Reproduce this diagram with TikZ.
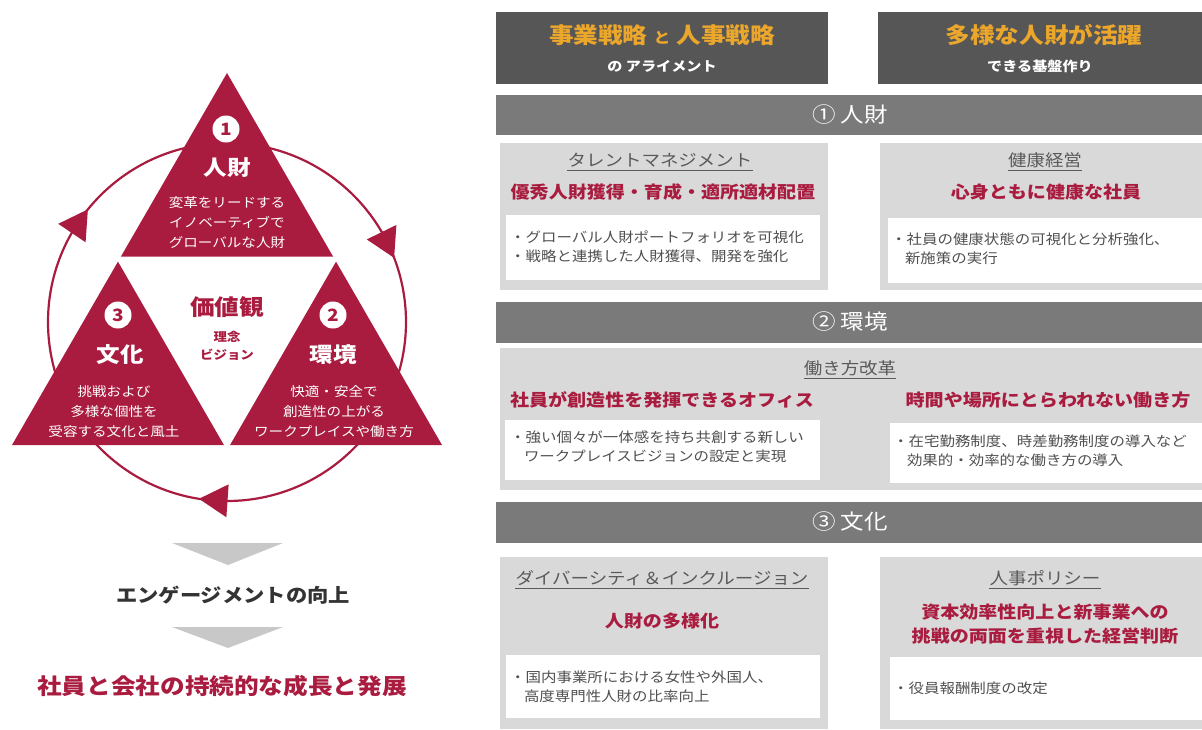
\documentclass[tikz,border=0pt]{standalone}
\usepackage{fontspec}
\setmainfont{Noto Sans CJK JP}[FakeStretch=1.12]
\usetikzlibrary{calc}
\definecolor{crim}{HTML}{A91C3F}
\definecolor{gold}{HTML}{EBA62C}
\definecolor{hdrgray}{HTML}{565656}
\definecolor{bargray}{HTML}{7A7A7A}
\definecolor{boxgray}{HTML}{D9D9D9}
\definecolor{headtxt}{HTML}{5A5A5A}
\definecolor{listtxt}{HTML}{505050}
\definecolor{chev}{HTML}{C8C8C8}
\newcommand\fsz[2]{\fontsize{#1}{#2}\selectfont}
\begin{document}
\begin{tikzpicture}[x=1pt,y=-1pt, every node/.style={inner sep=0pt},
  numc/.style={circle, fill=white, minimum size=27pt, text=crim, font=\fsz{17}{20}\bfseries},
  tname/.style={text=white, font=\fsz{21}{24}\bfseries},
  tsub/.style={text=white, align=center, font=\fsz{13}{20}},
  hdrbox/.style={fill=hdrgray},
  barbox/.style={fill=bargray},
  pbox/.style={fill=boxgray},
  wbox/.style={fill=white},
  goldtxt/.style={text=gold, font=\fsz{22}{26}\bfseries},
  hsub/.style={text=white, font=\fsz{13.5}{16}\bfseries},
  bartxt/.style={text=white, font=\fsz{21}{24}},
  head/.style={text=headtxt, font=\fsz{16.5}{20}},
  uline/.style={draw=headtxt, line width=0.9pt},
  crimtxt/.style={text=crim, align=center, font=\fsz{17}{24}\bfseries},
  listtext/.style={text=listtxt, align=left, font=\fsz{13.8}{19}},
]
\useasboundingbox (0,0) rectangle (1202,729);
% ---------- left: cycle ----------
\coordinate (c) at (227,322);
\draw[crim, line width=2.2pt] (c) circle[radius=179pt];
\foreach \t in {21,141,261}{
  \fill[crim] ($(c)+(-\t:179)$) -- ($(c)+(-\t:179)+({-\t-65}:33)$) -- ($(c)+(-\t:179)+({-\t-125}:33)$) -- cycle;
}
\fill[crim] (227,73) -- (442,445) -- (12,445) -- cycle;
\filldraw[white, line width=5pt, line join=round] (119.5,259) -- (334.5,259) -- (227,445) -- cycle;

\node[numc] (n1) at (226,129) {1};
\node[tname] (t1) at (227,168) {人財};
\node[tsub] (s1) at (227,223) {変革をリードする\\イノベーティブで\\グローバルな人財};

\node[numc] (n3) at (118,315) {3};
\node[tname] (t3) at (120,355) {文化};
\node[tsub] (s3) at (114,412) {挑戦および\\多様な個性を\\受容する文化と風土};

\node[numc] (n2) at (333,315) {2};
\node[tname] (t2) at (333,355) {環境};
\node[tsub] (s2) at (334,412) {快適・安全で\\創造性の上がる\\ワークプレイスや働き方};

\node[text=crim, font=\fsz{22}{26}\bfseries] (kv) at (227,307) {価値観};
\node[text=crim, align=center, font=\fsz{12}{18}\bfseries] (kv2) at (227,346) {理念\\ビジョン};

% chevrons and outcome
\fill[chev] (172,543) -- (283,543) -- (228,565) -- cycle;
\node[text=black!80, font=\fsz{19}{22}\bfseries] (eng) at (233,595) {エンゲージメントの向上};
\fill[chev] (172,627) -- (283,627) -- (228,648) -- cycle;
\node[text=crim, font=\fsz{22}{26}\bfseries] (goal) at (222,686) {社員と会社の持続的な成長と発展};

% ---------- right: headers ----------
\fill[hdrbox] (496,12) rectangle (828,84);
\node[goldtxt] (g1) at (662,35) {事業戦略\hspace{6pt}{\fsz{15}{18}と}\hspace{6pt}人事戦略};
\node[hsub] (g1s) at (662,66) {の アライメント};
\fill[hdrbox] (878,12) rectangle (1202,84);
\node[goldtxt] (g2) at (1044,35) {多様な人財が活躍};
\node[hsub] (g2s) at (1040,66) {できる基盤作り};

% ---------- section 1 ----------
\fill[barbox] (496,95) rectangle (1202,135);
\node[bartxt] (b1) at (850,115) {① 人財};
\fill[pbox] (500,143) rectangle (828,290);
\fill[pbox] (880,143) rectangle (1202,290);
\node[head] (h11) at (660,160) {タレントマネジメント};
\draw[uline] ([yshift=-4pt]h11.base west) -- ([yshift=-4pt]h11.base east);
\node[crimtxt] (r11) at (663,192) {優秀人財獲得・育成・適所適材配置};
\fill[wbox] (506,215) rectangle (820,280);
\node[listtext, anchor=west] (l11) at (510,247) {・グローバル人財ポートフォリオを可視化\\・戦略と連携した人財獲得、開発を強化};
\node[head] (h12) at (1045,160) {健康経営};
\draw[uline] ([yshift=-4pt]h12.base west) -- ([yshift=-4pt]h12.base east);
\node[crimtxt] (r12) at (1046,192) {心身ともに健康な社員};
\fill[wbox] (888,218) rectangle (1202,283);
\node[listtext, anchor=west] (l12) at (891,249) {・社員の健康状態の可視化と分析強化、\\\hspace{13.8pt}新施策の実行};

% ---------- section 2 ----------
\fill[barbox] (496,302) rectangle (1202,343);
\node[bartxt] (b2) at (850,322) {② 環境};
\fill[pbox] (500,348) rectangle (1202,490);
\node[head] (h2) at (850,368) {働き方改革};
\draw[uline] ([yshift=-4pt]h2.base west) -- ([yshift=-4pt]h2.base east);
\node[crimtxt] (r21) at (662,400) {社員が創造性を発揮できるオフィス};
\node[crimtxt] (r22) at (1048,400) {時間や場所にとらわれない働き方};
\fill[wbox] (505,420) rectangle (820,480);
\node[listtext, anchor=west] (l21) at (510,447) {・強い個々が一体感を持ち共創する新しい\\\hspace{13.8pt}ワークプレイスビジョンの設定と実現};
\fill[wbox] (890,423) rectangle (1202,483);
\node[listtext, anchor=west] (l22) at (893,451) {・在宅勤務制度、時差勤務制度の導入など\\\hspace{13.8pt}効果的・効率的な働き方の導入};

% ---------- section 3 ----------
\fill[barbox] (496,502) rectangle (1202,543);
\node[bartxt] (b3) at (850,522) {③ 文化};
\fill[pbox] (500,557) rectangle (828,729);
\fill[pbox] (880,557) rectangle (1202,729);
\node[head] (h31) at (662,578) {ダイバーシティ＆インクルージョン};
\draw[uline] ([yshift=-4pt]h31.base west) -- ([yshift=-4pt]h31.base east);
\node[crimtxt] (r31) at (662,621) {人財の多様化};
\fill[wbox] (506,655) rectangle (820,718);
\node[listtext, anchor=west] (l31) at (510,687) {・国内事業所における女性や外国人、\\\hspace{13.8pt}高度専門性人財の比率向上};
\node[head] (h32) at (1045,578) {人事ポリシー};
\draw[uline] ([yshift=-4pt]h32.base west) -- ([yshift=-4pt]h32.base east);
\node[crimtxt] (r32) at (1045,624) {資本効率性向上と新事業への\\挑戦の両面を重視した経営判断};
\fill[wbox] (890,657) rectangle (1202,720);
\node[listtext, anchor=west] (l32) at (893,688) {・役員報酬制度の改定};
\end{tikzpicture}
\end{document}
